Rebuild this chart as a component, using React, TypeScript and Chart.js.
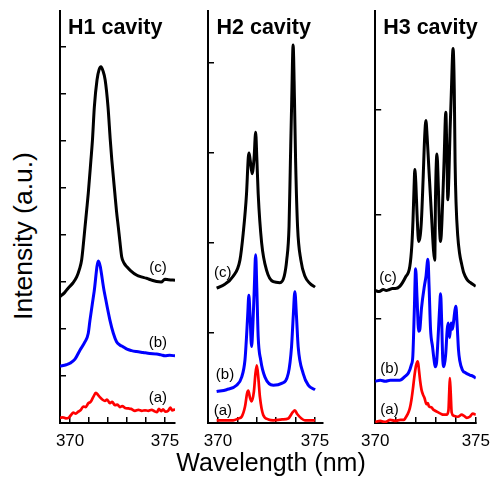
import React, { useEffect, useRef } from "react";
import { Chart, registerables } from "chart.js";

Chart.register(...registerables);

const FONT = "'Liberation Sans', Arial, sans-serif";

// ---- text ----
const PANEL_TITLES = ["H1 cavity", "H2 cavity", "H3 cavity"];
const SERIES_LABELS = ["(a)", "(b)", "(c)"];
const X_TICK_LABELS = [370, 375];
const X_TITLE = "Wavelength (nm)";
const Y_TITLE = "Intensity (a.u.)";

// ---- H1 cavity: [wavelength nm, intensity a.u. (offset)] ----
const H1_RED: [number, number][] = [
  [369.47, 0.11], [369.62, 0.12], [369.78, 0.1], [369.92, 0.11], [370.05, 0.17], [370.17, 0.22],
  [370.3, 0.2], [370.43, 0.24], [370.55, 0.27], [370.7, 0.35], [370.82, 0.34], [370.96, 0.42],
  [371.08, 0.45], [371.22, 0.55], [371.36, 0.64], [371.47, 0.6], [371.57, 0.55], [371.7, 0.5],
  [371.84, 0.47], [371.95, 0.5], [372.1, 0.42], [372.22, 0.45], [372.36, 0.38], [372.5, 0.39],
  [372.62, 0.34], [372.75, 0.36], [372.9, 0.32], [373.07, 0.31], [373.22, 0.3], [373.42, 0.26],
  [373.6, 0.28], [373.78, 0.26], [373.95, 0.27], [374.12, 0.26], [374.3, 0.28], [374.45, 0.25],
  [374.58, 0.23], [374.68, 0.3], [374.8, 0.25], [374.9, 0.29], [375.02, 0.24], [375.17, 0.26],
  [375.28, 0.33], [375.38, 0.27], [375.53, 0.29],
];
const H1_BLUE: [number, number][] = [
  [369.47, 1.21], [369.8, 1.24], [369.99, 1.27], [370.26, 1.36], [370.52, 1.55], [370.79, 1.73],
  [370.96, 1.91], [371.05, 2.19], [371.27, 2.8], [371.49, 3.45], [371.8, 2.8], [372.1, 2.19],
  [372.28, 1.91], [372.45, 1.73], [372.62, 1.66], [372.8, 1.62], [373.0, 1.57], [373.24, 1.54],
  [373.5, 1.52], [373.85, 1.5], [374.2, 1.48], [374.56, 1.47], [374.8, 1.45], [375.0, 1.43],
  [375.25, 1.44], [375.53, 1.43],
];
const H1_BLACK: [number, number][] = [
  [369.47, 2.69], [369.7, 2.77], [369.9, 2.87], [370.15, 2.98], [370.35, 3.11], [370.5, 3.28],
  [370.61, 3.47], [370.7, 3.8], [370.79, 4.18], [370.88, 4.55], [370.96, 4.89], [371.1, 5.6],
  [371.18, 6.02], [371.28, 6.73], [371.42, 7.3], [371.53, 7.52], [371.63, 7.58], [371.73, 7.5],
  [371.85, 7.3], [372.0, 6.73], [372.12, 6.02], [372.2, 5.6], [372.36, 4.89], [372.45, 4.5],
  [372.54, 4.18], [372.63, 3.85], [372.72, 3.54], [372.85, 3.4], [372.98, 3.33], [373.2, 3.24],
  [373.5, 3.15], [373.75, 3.11], [374.03, 3.08], [374.3, 3.04], [374.56, 3.01], [374.8, 3.0],
  [375.0, 3.06], [375.2, 3.05], [375.53, 3.04],
];
const H1_LABEL_POS: [number, number][] = [[374.63, 0.53], [374.63, 1.7], [374.63, 3.3]];

// ---- H2 cavity ----
const H2_RED: [number, number][] = [
  [369.93, 0.03], [370.4, 0.03], [370.78, 0.03], [371.05, 0.05], [371.22, 0.07], [371.39, 0.18],
  [371.5, 0.33], [371.56, 0.36], [371.65, 0.28], [371.73, 0.24], [371.85, 0.35], [371.93, 0.55],
  [372.0, 0.64], [372.08, 0.5], [372.16, 0.29], [372.33, 0.09], [372.6, 0.04], [372.85, 0.03],
  [373.3, 0.04], [373.62, 0.05], [373.85, 0.12], [373.96, 0.14], [374.08, 0.1], [374.3, 0.05],
  [374.48, 0.03], [375.0, 0.03],
];
const H2_BLUE: [number, number][] = [
  [369.93, 0.35], [370.44, 0.37], [370.96, 0.42], [371.22, 0.51], [371.39, 0.7], [371.47, 0.96],
  [371.53, 1.2], [371.59, 1.42], [371.65, 1.2], [371.73, 0.85], [371.8, 1.1], [371.87, 1.5],
  [371.94, 1.87], [372.0, 1.5], [372.07, 0.96], [372.2, 0.7], [372.42, 0.51], [372.85, 0.42],
  [373.28, 0.44], [373.62, 0.55], [373.79, 0.85], [373.88, 1.2], [373.96, 1.46], [374.04, 1.2],
  [374.13, 0.85], [374.39, 0.55], [374.65, 0.42], [375.0, 0.37],
];
const H2_BLACK: [number, number][] = [
  [369.93, 1.5], [370.27, 1.53], [370.78, 1.63], [371.13, 1.81], [371.3, 2.11], [371.47, 2.55],
  [371.56, 2.95], [371.6, 3.0], [371.66, 2.92], [371.76, 2.77], [371.86, 2.95], [371.94, 3.23],
  [372.0, 2.95], [372.07, 2.55], [372.25, 2.0], [372.5, 1.7], [372.85, 1.57], [373.19, 1.56],
  [373.41, 1.63], [373.54, 1.81], [373.66, 2.18], [373.73, 2.9], [373.8, 3.6], [373.87, 4.2],
  [373.94, 3.6], [374.0, 2.9], [374.1, 2.18], [374.27, 1.81], [374.48, 1.63], [374.74, 1.55],
  [375.0, 1.51],
];
const H2_LABEL_POS: [number, number][] = [[370.25, 0.14], [370.36, 0.53], [370.25, 1.67]];

// ---- H3 cavity ----
const H3_RED: [number, number][] = [
  [370.0, 0.01], [370.25, 0.02], [370.5, 0.01], [370.75, 0.03], [371.0, 0.02], [371.25, 0.03],
  [371.43, 0.03], [371.51, 0.05], [371.6, 0.08], [371.72, 0.14], [371.8, 0.22], [371.87, 0.32],
  [371.95, 0.45], [372.03, 0.55], [372.12, 0.59], [372.18, 0.5], [372.23, 0.41], [372.3, 0.32],
  [372.38, 0.27], [372.45, 0.24], [372.55, 0.18], [372.62, 0.19], [372.67, 0.16], [372.8, 0.15],
  [372.88, 0.13], [372.96, 0.12], [373.15, 0.1], [373.25, 0.09], [373.39, 0.08], [373.55, 0.08],
  [373.64, 0.12], [373.68, 0.3], [373.71, 0.43], [373.75, 0.3], [373.8, 0.1], [373.9, 0.07],
  [374.11, 0.06], [374.3, 0.08], [374.4, 0.07], [374.55, 0.05], [374.7, 0.06], [374.85, 0.09],
  [375.0, 0.08],
];
const H3_BLUE: [number, number][] = [
  [370.0, 0.4], [370.25, 0.41], [370.5, 0.4], [370.75, 0.41], [371.0, 0.41], [371.22, 0.41],
  [371.5, 0.45], [371.65, 0.48], [371.8, 0.56], [371.87, 0.64], [371.94, 1.05], [372.01, 1.48],
  [372.08, 1.2], [372.16, 0.88], [372.22, 0.9], [372.3, 1.1], [372.45, 1.32], [372.52, 1.4],
  [372.62, 1.57], [372.68, 1.3], [372.75, 0.9], [372.85, 0.73], [372.93, 0.6], [372.98, 0.54],
  [373.05, 0.58], [373.12, 0.8], [373.2, 1.1], [373.25, 1.24], [373.3, 1.0], [373.36, 0.6],
  [373.42, 0.54], [373.5, 0.65], [373.58, 0.9], [373.63, 0.96], [373.7, 0.82], [373.77, 0.96],
  [373.84, 0.9], [373.9, 0.98], [373.96, 1.08], [374.01, 1.12], [374.07, 0.95], [374.14, 0.7],
  [374.2, 0.6], [374.33, 0.51], [374.5, 0.48], [374.7, 0.46], [374.85, 0.45], [375.0, 0.43],
];
const H3_BLACK: [number, number][] = [
  [370.0, 1.27], [370.2, 1.26], [370.4, 1.28], [370.55, 1.27], [370.71, 1.28], [370.85, 1.29],
  [371.0, 1.29], [371.22, 1.31], [371.51, 1.4], [371.72, 1.5], [371.82, 1.7], [371.88, 1.95],
  [371.93, 2.25], [371.97, 2.43], [372.02, 2.3], [372.08, 2.0], [372.16, 1.74], [372.24, 1.8],
  [372.3, 1.95], [372.38, 2.33], [372.46, 2.75], [372.52, 2.9], [372.58, 2.75], [372.67, 2.43],
  [372.81, 1.95], [372.9, 1.65], [372.96, 1.56], [373.0, 2.2], [373.07, 2.58], [373.14, 2.25],
  [373.2, 1.85], [373.25, 1.74], [373.32, 1.95], [373.42, 2.5], [373.51, 2.98], [373.56, 2.6],
  [373.61, 2.14], [373.66, 2.35], [373.72, 2.8], [373.78, 3.15], [373.87, 3.59], [373.93, 3.2],
  [373.97, 2.5], [374.02, 2.1], [374.1, 1.8], [374.19, 1.63], [374.3, 1.52], [374.4, 1.44],
  [374.55, 1.38], [374.7, 1.35], [374.85, 1.33], [375.0, 1.31],
];
const H3_LABEL_POS: [number, number][] = [[370.71, 0.13], [370.71, 0.52], [370.64, 1.39]];

const COLORS = ["#ff0000", "#0000ff", "#000000"];
const LINE_WIDTHS = [2.7, 3, 3];

type PanelCfg = {
  title: string;
  series: [number, number][][];
  labels: [number, number][];
  xMin: number;
  xMax: number;
  yMax: number;
  left: number;
  right: number;
  titleDx: number;
};

const PANELS: PanelCfg[] = [
  { title: PANEL_TITLES[0], series: [H1_RED, H1_BLUE, H1_BLACK], labels: H1_LABEL_POS,
    xMin: 369.47, xMax: 375.53, yMax: 8.79, left: 60, right: 175, titleDx: 8 },
  { title: PANEL_TITLES[1], series: [H2_RED, H2_BLUE, H2_BLACK], labels: H2_LABEL_POS,
    xMin: 369.485, xMax: 375.41, yMax: 4.59, left: 208, right: 323, titleDx: 8.5 },
  { title: PANEL_TITLES[2], series: [H3_RED, H3_BLUE, H3_BLACK], labels: H3_LABEL_POS,
    xMin: 370, xMax: 375, yMax: 3.96, left: 367, right: 482, titleDx: 8 },
];

const TOP = 10;
const BOTTOM = 423;
const PAD_L = 14;
const Y_W = 6;
const PAD_R = 22;
const X_H = 40;

function Panel({ cfg }: { cfg: PanelCfg }) {
  const ref = useRef<HTMLCanvasElement>(null);
  const width = cfg.right - cfg.left + PAD_L + Y_W + PAD_R;
  const height = BOTTOM - TOP + X_H;

  useEffect(() => {
    const canvas = ref.current;
    if (!canvas) return;
    const annotate = {
      id: "annotate",
      afterDatasetsDraw(chart: any) {
        const { ctx, chartArea, scales } = chart;
        ctx.save();
        ctx.fillStyle = "#000";
        ctx.font = `bold 21.5px ${FONT}`;
        ctx.textAlign = "left";
        ctx.textBaseline = "alphabetic";
        ctx.fillText(cfg.title, chartArea.left + cfg.titleDx, chartArea.top + 23.5);
        ctx.font = `15px ${FONT}`;
        ctx.textAlign = "center";
        ctx.textBaseline = "middle";
        cfg.labels.forEach(([wl, v], i) => {
          ctx.fillText(SERIES_LABELS[i], scales.x.getPixelForValue(wl), scales.y.getPixelForValue(v));
        });
        ctx.restore();
      },
    };
    const gridOpts = {
      display: true,
      drawOnChartArea: false,
      drawTicks: true,
      tickLength: -6,
      color: "#000",
      lineWidth: 1.5,
    };
    const chart = new Chart(canvas, {
      type: "line",
      data: {
        datasets: cfg.series.map((s, i) => ({
          data: s.map(([x, y]) => ({ x, y })),
          borderColor: COLORS[i],
          backgroundColor: COLORS[i],
          borderWidth: LINE_WIDTHS[i],
          pointRadius: 0,
          fill: false,
          borderJoinStyle: "round" as const,
          cubicInterpolationMode: "monotone" as const,
        })),
      },
      options: {
        responsive: false,
        animation: false,
        devicePixelRatio: 1,
        events: [],
        layout: { padding: { left: PAD_L, right: PAD_R, top: 0, bottom: 0 } },
        plugins: { legend: { display: false }, tooltip: { enabled: false }, title: { display: false } },
        scales: {
          x: {
            type: "linear",
            position: "bottom",
            min: cfg.xMin,
            max: cfg.xMax,
            afterFit: (s: any) => { s.height = X_H; },
            grid: gridOpts,
            border: { display: true, color: "#000", width: 2 },
            ticks: {
              stepSize: 1,
              includeBounds: false,
              autoSkip: false,
              maxRotation: 0,
              color: "#000",
              padding: 14,
              font: { family: FONT, size: 17 },
              callback: (v: any) => (X_TICK_LABELS.includes(Math.round(Number(v) * 1000) / 1000) ? String(v) : ""),
            },
          },
          y: {
            type: "linear",
            min: 0,
            max: cfg.yMax,
            afterFit: (s: any) => { s.width = Y_W; },
            grid: gridOpts,
            border: { display: true, color: "#000", width: 2 },
            ticks: { stepSize: 1, includeBounds: false, display: false },
          },
        },
      },
      plugins: [annotate],
    } as any);
    return () => chart.destroy();
  }, [cfg]);

  return (
    <canvas
      ref={ref}
      width={width}
      height={height}
      style={{ position: "absolute", left: cfg.left - PAD_L - Y_W, top: TOP, width, height }}
    />
  );
}

export default function App() {
  return (
    <div style={{ position: "fixed", left: 0, top: 0, width: 501, height: 478, background: "#fff", overflow: "hidden" }}>
      {PANELS.map((p) => (
        <Panel key={p.title} cfg={p} />
      ))}
      <div
        style={{
          position: "absolute", left: 271, top: 462, transform: "translate(-50%, -50%)",
          fontFamily: FONT, fontSize: 25, whiteSpace: "nowrap", lineHeight: 1, color: "#000",
        }}
      >
        {X_TITLE}
      </div>
      <div
        style={{
          position: "absolute", left: 23, top: 236, transform: "translate(-50%, -50%) rotate(-90deg)",
          fontFamily: FONT, fontSize: 26.5, whiteSpace: "nowrap", lineHeight: 1, color: "#000",
        }}
      >
        {Y_TITLE}
      </div>
    </div>
  );
}
